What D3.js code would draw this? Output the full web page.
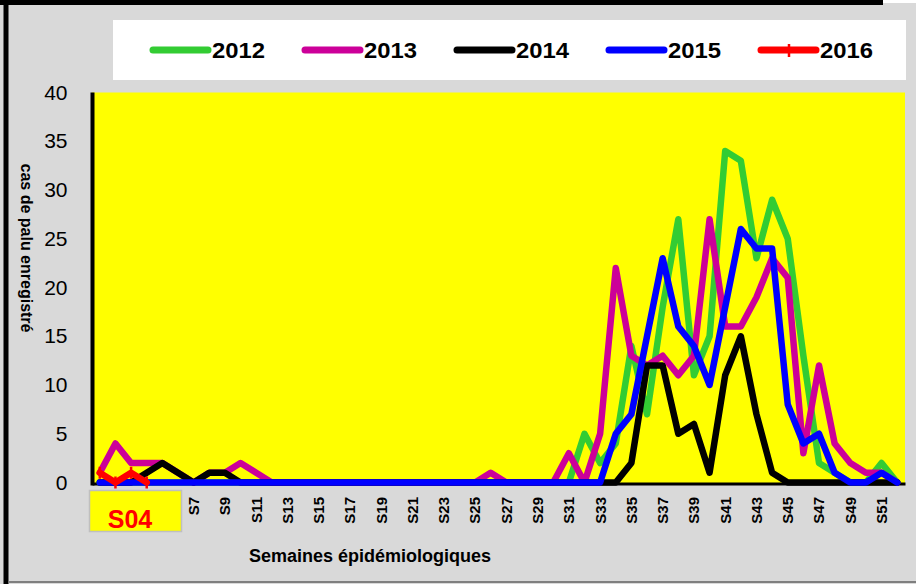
<!DOCTYPE html>
<html><head><meta charset="utf-8">
<script src="https://cdn.jsdelivr.net/npm/d3@7"></script>
<style>
body{margin:0;background:#d9d9d9}
svg{display:block}
text{font-family:"Liberation Sans",Arial,sans-serif}
</style>
</head><body>
<svg id="c" width="916" height="584"></svg>
<script>
const weeks = ["S1","S2","S3","S4","S5","S6","S7","S8","S9","S10","S11","S12","S13","S14","S15","S16","S17","S18","S19","S20","S21","S22","S23","S24","S25","S26","S27","S28","S29","S30","S31","S32","S33","S34","S35","S36","S37","S38","S39","S40","S41","S42","S43","S44","S45","S46","S47","S48","S49","S50","S51","S52"];
const tickLabels = ["S1","S3","S5","S7","S9","S11","S13","S15","S17","S19","S21","S23","S25","S27","S29","S31","S33","S35","S37","S39","S41","S43","S45","S47","S49","S51"];
const yTicks = [0,5,10,15,20,25,30,35,40];
const years = ["2012","2013","2014","2015","2016"];
const colors = ["#33cc33","#cc0099","#000000","#0000ff","#ff0000"];
const s2012 = [0,0,0,0,0,0,0,0,0,0, 0,0,0,0,0,0,0,0,0,0, 0,0,0,0,0,0,0,0,0,0, 0,5,2,4,14,7,18,27,11,15, 34,33,23,29,25,13,2,1,0,0, 2,0];
const s2013 = [1,4,2,2,2,1,0,1,1,2, 1,0,0,0,0,0,0,0,0,0, 0,0,0,0,0,1,0,0,0,0, 3,0,5,22,13,12,13,11,13,27, 16,16,19,23,21,3,12,4,2,1, 1,0];
const s2014 = [0,0,0,1,2,1,0,1,1,0, 0,0,0,0,0,0,0,0,0,0, 0,0,0,0,0,0,0,0,0,0, 0,0,0,0,2,12,12,5,6,1, 11,15,7,1,0,0,0,0,0,0, 0,0];
const s2015 = [0,0,0,0,0,0,0,0,0,0, 0,0,0,0,0,0,0,0,0,0, 0,0,0,0,0,0,0,0,0,0, 0,0,0,5,7,15,23,16,14,10, 18,26,24,24,8,4,5,1,0,0, 1,0];
const s2016 = [1,0,1,0];
const series = [s2012,s2013,s2014,s2015,s2016];
const currentWeek = "S04";

const svg = d3.select("#c");
// background and frame
svg.append("rect").attr("width",916).attr("height",584).attr("fill","#d9d9d9");
svg.append("rect").attr("x",0).attr("y",0).attr("width",883).attr("height",5).attr("fill","#000");
svg.append("rect").attr("x",883).attr("y",0).attr("width",33).attr("height",3).attr("fill","#fff");
svg.append("rect").attr("x",3.5).attr("y",0).attr("width",5).attr("height",584).attr("fill","#000");
svg.append("rect").attr("x",8.5).attr("y",581).attr("width",908).attr("height",2).attr("fill","#7f7f7f");

const L=92, R=905, T=92.5, B=482.5;
const x = d3.scaleBand().domain(weeks).range([L,R]);
const y = d3.scaleLinear().domain([0,40]).range([B,T]);
const cx = w => x(w)+x.bandwidth()/2;

// plot area
svg.append("rect").attr("x",L).attr("y",T).attr("width",R-L).attr("height",B-T+1.5).attr("fill","#ffff00");

// x axis
const xa = svg.append("g").attr("transform",`translate(0,${B+1})`)
  .call(d3.axisBottom(x).tickValues(tickLabels).tickSize(0).tickSizeOuter(0));
xa.select(".domain").attr("stroke","#000").attr("stroke-width",3);
xa.selectAll("text").attr("transform","translate(0,13.5) rotate(-90)").attr("x",0).attr("y",0)
  .attr("dy","0.36em").attr("text-anchor","end")
  .attr("font-size",15).attr("font-weight","bold").attr("fill","#000")
  .style("font-family",'"Liberation Sans",Arial,sans-serif');

// y axis
const ya = svg.append("g").attr("transform",`translate(${L+0.5},0)`)
  .call(d3.axisLeft(y).tickValues(yTicks).tickSize(0).tickSizeOuter(0).tickPadding(25));
ya.select(".domain").attr("stroke","#000").attr("stroke-width",4).attr("d",`M0,${B+3}V${T}`);
ya.selectAll("text").attr("font-size",21).attr("fill","#000")
  .style("font-family",'"Liberation Sans",Arial,sans-serif');

// lines
const line = d3.line().x((d,i)=>cx(weeks[i])).y(d=>y(d));
series.forEach((s,k)=>{
  svg.append("path").datum(s).attr("d",line).attr("fill","none")
    .attr("stroke",colors[k]).attr("stroke-width",6.5)
    .attr("stroke-linejoin","round").attr("stroke-linecap","round");
});
// markers for 2016
svg.append("g").selectAll("line").data(s2016).join("line")
  .attr("x1",(d,i)=>cx(weeks[i])).attr("x2",(d,i)=>cx(weeks[i]))
  .attr("y1",d=>y(d)-6).attr("y2",d=>y(d)+6)
  .attr("stroke","#ff0000").attr("stroke-width",2.5);

// legend
svg.append("rect").attr("x",113).attr("y",20).attr("width",793).attr("height",60).attr("fill","#fff");
years.forEach((yr,k)=>{
  const sx = 153 + k*152;
  svg.append("line").attr("x1",sx).attr("x2",sx+55).attr("y1",50).attr("y2",50)
    .attr("stroke",colors[k]).attr("stroke-width",7).attr("stroke-linecap","round");
  if(k===4){
    svg.append("line").attr("x1",sx+28).attr("x2",sx+28).attr("y1",44).attr("y2",57)
      .attr("stroke",colors[k]).attr("stroke-width",2.5);
  }
  svg.append("text").attr("x",sx+59).attr("y",58).text(yr)
    .attr("font-size",22).attr("font-weight","bold").attr("fill","#000")
    .attr("textLength",53).attr("lengthAdjust","spacingAndGlyphs");
});

// axis titles
svg.append("text").attr("transform","translate(27,248) rotate(90)").attr("text-anchor","middle")
  .attr("dy","0.35em").attr("font-size",16).attr("font-weight","bold").text("cas de palu enregistré");
svg.append("text").attr("x",370).attr("y",562).attr("text-anchor","middle")
  .attr("font-size",18).attr("font-weight","bold").text("Semaines épidémiologiques");

// current week box
svg.append("rect").attr("x",89.5).attr("y",490.5).attr("width",92).attr("height",41)
  .attr("fill","#ffff00").attr("stroke","#bfbfbf").attr("stroke-width",1.5);
svg.append("text").attr("x",130).attr("y",528).attr("text-anchor","middle")
  .attr("font-size",25).attr("font-weight","bold").attr("fill","#ff0000").text(currentWeek);
</script>
</body></html>
